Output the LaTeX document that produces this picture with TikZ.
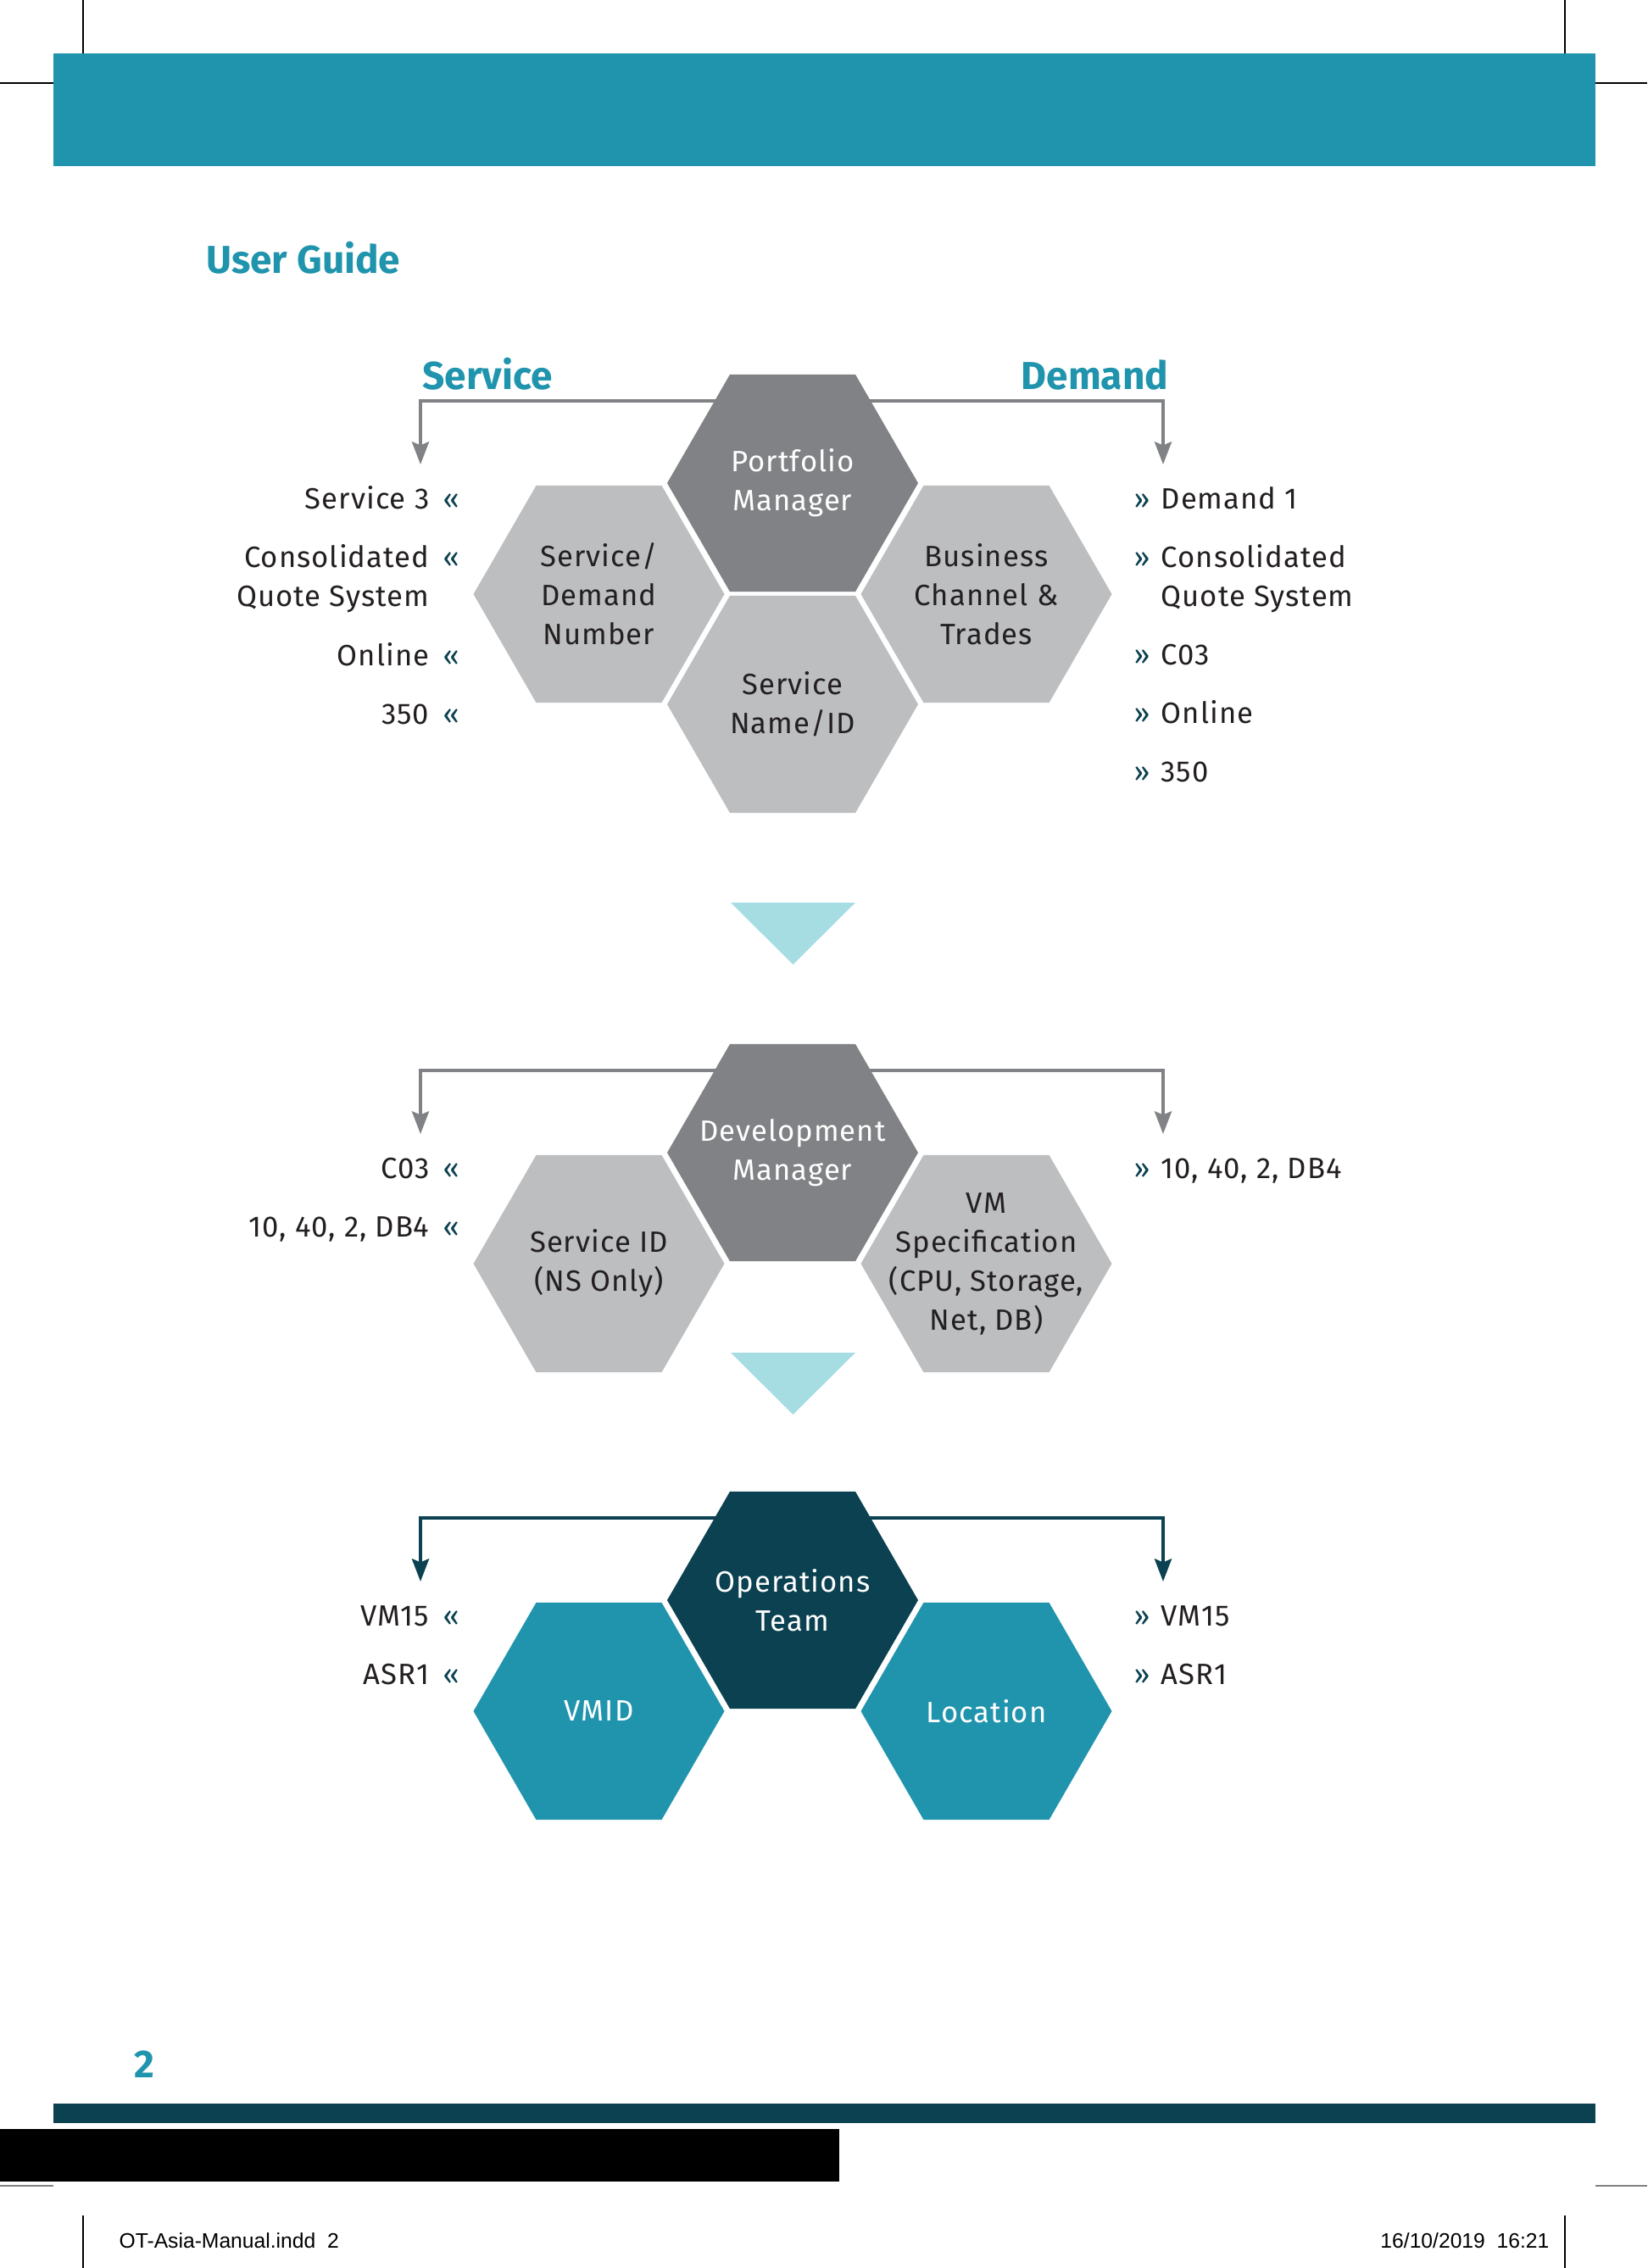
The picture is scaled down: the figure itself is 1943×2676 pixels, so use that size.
\documentclass[tikz,border=0pt]{standalone}
\usepackage{fontspec}
\setmainfont{Fira Sans}[LetterSpace=3]
\newfontfamily\footfont{Liberation Sans}
\newfontfamily\headfont{Fira Sans}
\usetikzlibrary{shapes.geometric,arrows.meta,backgrounds}

\definecolor{guideteal}{RGB}{32,148,173}
\definecolor{deepteal}{RGB}{11,65,80}
\definecolor{hexdark}{RGB}{128,130,133}
\definecolor{hexlight}{RGB}{188,190,192}
\definecolor{paleteal}{RGB}{166,221,227}
\definecolor{inkblack}{RGB}{35,31,32}

\tikzset{
  hex/.style={regular polygon, regular polygon sides=6, minimum size=88.8pt, inner sep=0pt, outer sep=0pt, draw=none},
  hextext/.style={align=center, inner sep=0pt, font=\fontsize{10.4}{13.8}\selectfont},
  side/.style={inner sep=0pt, text=inkblack, font=\fontsize{10.4}{13.8}\selectfont},
  guil/.style={inner sep=0pt, text=deepteal, anchor=base west, font=\fontsize{10}{13.8}\selectfont},
  headword/.style={inner sep=0pt, text=guideteal, font=\headfont\fontsize{13.8}{16}\selectfont\bfseries},
  link/.style={line width=1.2pt, -{Stealth[length=8pt, width=6pt, inset=1.2pt]}}
}

\begin{document}
\begin{tikzpicture}[x=0.3pt, y=-0.3pt]
        \useasboundingbox (0,0) rectangle (1943,2676);

        % page frame: bands and crop marks
        \fill[guideteal] (63,63) rectangle (1882,196);
        \fill[deepteal] (63,2482) rectangle (1882,2505);
        \fill[black] (0,2512) rectangle (990,2574);
        \draw[line width=0.4pt] (98,0) -- (98,63);
        \draw[line width=0.4pt] (1846,0) -- (1846,63);
        \draw[line width=0.6pt] (0,98) -- (63,98);
        \draw[line width=0.6pt] (1882,98) -- (1943,98);
        \draw[line width=0.6pt, gray] (0,2579) -- (63,2579);
        \draw[line width=0.6pt, gray] (1882,2579) -- (1943,2579);
        \draw[line width=0.4pt] (98,2614) -- (98,2676);
        \draw[line width=0.4pt] (1846,2614) -- (1846,2676);

        \node[headword, anchor=base west] (title) at (243,322) {User Guide};
        \node[headword, anchor=base west] (pagenum) at (158,2451) {2};
        \node[inner sep=0pt, anchor=base west, font=\footfont\fontsize{7.4}{9}\selectfont] (footl) at (140,2652) {OT-Asia-Manual.indd\ \ 2};
        \node[inner sep=0pt, anchor=base east, font=\footfont\fontsize{7.4}{9}\selectfont] (footr) at (1828,2652) {16/10/2019\ \ 16:21};

        % first group: portfolio
        \node[headword, anchor=base west] (svhead) at (498,459) {Service};
        \node[headword, anchor=base east] (dmhead) at (1379,459) {Demand};
        \node[hex, fill=hexdark] (portfolio) at (935,570) {};
        \node[hex, fill=hexlight] (sdnum) at (706.5,701) {};
        \node[hex, fill=hexlight] (bchan) at (1163.5,701) {};
        \node[hex, fill=hexlight] (sname) at (935,831) {};
        \node[hextext, text=white] (portfolio-t) at (portfolio) {Portfolio\\Manager};
        \node[hextext, text=inkblack] (sdnum-t) at (sdnum) {Service/\\Demand\\Number};
        \node[hextext, text=inkblack] (bchan-t) at (bchan) {Business\\Channel \&\\Trades};
        \node[hextext, text=inkblack] (sname-t) at (sname) {Service\\Name/ID};
        \foreach \y/\t [count=\i] in {600/Service 3, 669/Consolidated, 715/Quote System, 785/Online, 854/350}
            \node[side, anchor=base east] (svl\i) at (507,\y) {\t};
        \foreach \y [count=\i] in {600, 669, 785, 854}
            \node[guil] (svg\i) at (522,\y) {«};
        \foreach \y/\t [count=\i] in {600/Demand 1, 669/Consolidated, 715/Quote System, 784/C03, 853/Online, 922/350}
            \node[side, anchor=base west] (dml\i) at (1369,\y) {\t};
        \foreach \y [count=\i] in {600, 669, 784, 853, 922}
            \node[guil] (dmg\i) at (1337,\y) {»};

        \fill[paleteal] (862,1065) -- (1009,1065) -- (935.5,1138) -- cycle;

        % second group: development
        \node[hex, fill=hexdark] (devman) at (935,1360) {};
        \node[hex, fill=hexlight] (sid) at (706.5,1491) {};
        \node[hex, fill=hexlight] (vmspec) at (1163.5,1491) {};
        \node[hextext, text=white] (devman-t) at (devman) {Development\\Manager};
        \node[hextext, text=inkblack] (sid-t) at (sid) {Service ID\\(NS Only)};
        \node[hextext, text=inkblack] (vmspec-t) at (vmspec) {VM\\Specification\\(CPU, Storage,\\Net, DB)};
        \foreach \y/\t [count=\i] in {1390/C03, 1459/{10, 40, 2, DB4}}
            \node[side, anchor=base east] (dvl\i) at (507,\y) {\t};
        \foreach \y [count=\i] in {1390, 1459}
            \node[guil] (dvg\i) at (522,\y) {«};
        \node[side, anchor=base west] (dvr1) at (1369,1390) {10, 40, 2, DB4};
        \node[guil] (dvrg1) at (1337,1390) {»};

        \fill[paleteal] (862,1596) -- (1009,1596) -- (935.5,1669) -- cycle;

        % third group: operations
        \node[hex, fill=deepteal] (opsteam) at (935,1888) {};
        \node[hex, fill=guideteal] (vmid) at (706.5,2019) {};
        \node[hex, fill=guideteal] (loc) at (1163.5,2019) {};
        \node[hextext, text=white] (opsteam-t) at (opsteam) {Operations\\Team};
        \node[hextext, text=white] (vmid-t) at (vmid) {VMID};
        \node[hextext, text=white] (loc-t) at (loc) {Location};
        \foreach \y/\t [count=\i] in {1918/VM15, 1987/ASR1} {
            \node[side, anchor=base east] (opl\i) at (507,\y) {\t};
            \node[guil] (opg\i) at (522,\y) {«};
            \node[guil] (oprg\i) at (1337,\y) {»};
            \node[side, anchor=base west] (opr\i) at (1369,\y) {\t};
        }

        % connectors run behind the hexagons
        \begin{scope}[on background layer]
            \fill[white] (0,0) rectangle (1943,2676);
            \coordinate (svc1) at (496,473);  \coordinate (sve1) at (496,548);
            \coordinate (dmc1) at (1372,473); \coordinate (dme1) at (1372,548);
            \coordinate (svc2) at (496,1263);  \coordinate (sve2) at (496,1338);
            \coordinate (dmc2) at (1372,1263); \coordinate (dme2) at (1372,1338);
            \coordinate (svc3) at (496,1791);  \coordinate (sve3) at (496,1866);
            \coordinate (dmc3) at (1372,1791); \coordinate (dme3) at (1372,1866);
            \draw[link, hexdark] (portfolio.center |- svc1) -- (svc1) -- (sve1);
            \draw[link, hexdark] (portfolio.center |- dmc1) -- (dmc1) -- (dme1);
            \draw[link, hexdark] (devman.center |- svc2) -- (svc2) -- (sve2);
            \draw[link, hexdark] (devman.center |- dmc2) -- (dmc2) -- (dme2);
            \draw[link, deepteal] (opsteam.center |- svc3) -- (svc3) -- (sve3);
            \draw[link, deepteal] (opsteam.center |- dmc3) -- (dmc3) -- (dme3);
        \end{scope}
\end{tikzpicture}
\end{document}
